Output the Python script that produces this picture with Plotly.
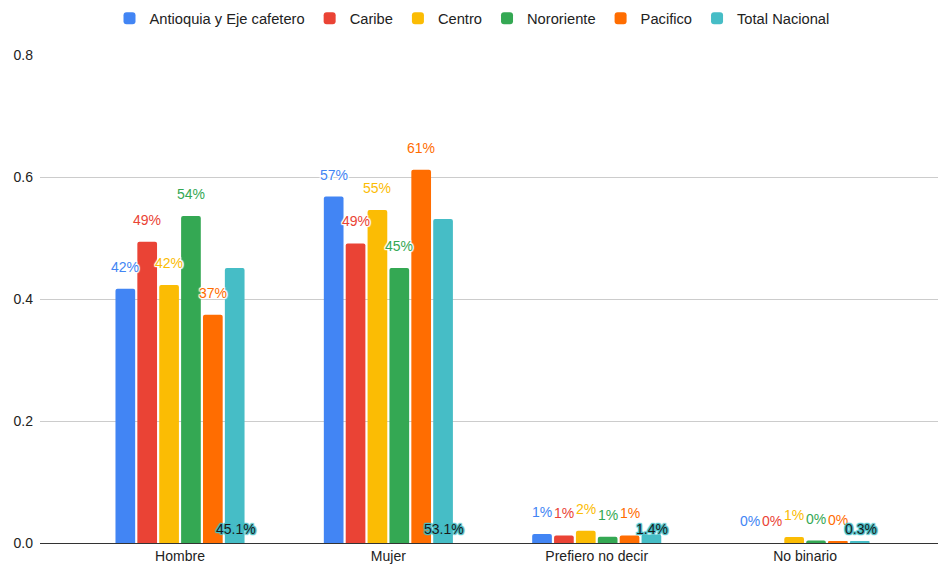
import plotly.graph_objects as go

categories = ["Hombre", "Mujer", "Prefiero no decir", "No binario"]
series_names = ["Antioquia y Eje cafetero", "Caribe", "Centro", "Nororiente", "Pacifico", "Total Nacional"]
antioquia = [0.417, 0.568, 0.0147, 0.0]
caribe = [0.494, 0.491, 0.0125, 0.0]
centro = [0.423, 0.546, 0.020, 0.010]
nororiente = [0.536, 0.451, 0.0103, 0.004]
pacifico = [0.374, 0.612, 0.0125, 0.002]
total_nacional = [0.451, 0.531, 0.014, 0.003]
y_ticks = [0.0, 0.2, 0.4, 0.6, 0.8]

values = [antioquia, caribe, centro, nororiente, pacifico, total_nacional]
colors = ["#4285F4", "#EA4335", "#FBBC04", "#34A853", "#FF6D01", "#46BDC6"]

FONT = "Arial, 'Liberation Sans', sans-serif"


def halo(c):
    offs = [(1, 1), (-1, -1), (1, -1), (-1, 1), (0, 1), (0, -1), (1, 0), (-1, 0)]
    return ", ".join(f"{dx}px {dy}px 1px {c}" for dx, dy in offs)


W, H = 940, 565
M = dict(l=40, r=2, t=53, b=22)
x_range = [-0.672, 3.638]
bargap, bargroupgap = 0.37, 0.1

fig = go.Figure()
for name, vals, col in zip(series_names, values, colors):
    fig.add_trace(go.Bar(
        x=categories, y=vals, name=name,
        marker=dict(color=col, cornerradius=2, line=dict(width=0)),
        cliponaxis=False,
    ))

# label placement derived from layout (pixel shift per series slot)
plot_w = W - M["l"] - M["r"]
cat_px = plot_w / (x_range[1] - x_range[0])
slot_px = cat_px * (1 - bargap) / len(series_names)

annotations = []
for i, (name, vals, col) in enumerate(zip(series_names, values, colors)):
    dx = (i - (len(series_names) - 1) / 2) * slot_px
    for cat, v in zip(categories, vals):
        if name == "Total Nacional":
            annotations.append(dict(
                x=cat, y=0, xref="x", yref="y", text=f"{v * 100:.1f}%",
                showarrow=False, xshift=dx + 1, yshift=14,
                font=dict(family=FONT, size=14, color="#1a1a1a", shadow=halo(col)),
            ))
        else:
            annotations.append(dict(
                x=cat, y=v, xref="x", yref="y", text=f"{v * 100:.0f}%",
                showarrow=False, xshift=dx, yshift=22,
                font=dict(family=FONT, size=14, color=col, shadow=halo("#ffffff")),
            ))

fig.update_layout(
    width=W, height=H,
    margin=M,
    paper_bgcolor="white", plot_bgcolor="white",
    barmode="group", bargap=bargap, bargroupgap=bargroupgap,
    font=dict(family=FONT, size=14, color="#222222"),
    annotations=annotations,
    legend=dict(orientation="h", x=(472 - M["l"]) / plot_w, xanchor="center",
                y=1 + (M["t"] - 16.5) / (H - M["t"] - M["b"]),
                yanchor="middle", font=dict(size=14.7, color="#222222"),
                traceorder="normal", bgcolor="rgba(0,0,0,0)"),
    xaxis=dict(range=x_range, showgrid=False, showline=True, automargin=False,
               linecolor="#333333", linewidth=1, ticks="", tickfont=dict(size=14, color="#222222")),
    yaxis=dict(range=[0, 0.8], tickvals=y_ticks, tickformat=".1f", automargin=False,
               showgrid=True, gridcolor="#cccccc", gridwidth=1, zeroline=True,
               zerolinecolor="#333333", zerolinewidth=1, showline=False,
               tickfont=dict(size=14, color="#222222"), ticklabelstandoff=6),
)

fig.write_html("out.html", config={"displayModeBar": False},
               post_script="document.body.style.margin='0';document.body.style.overflow='hidden';")
